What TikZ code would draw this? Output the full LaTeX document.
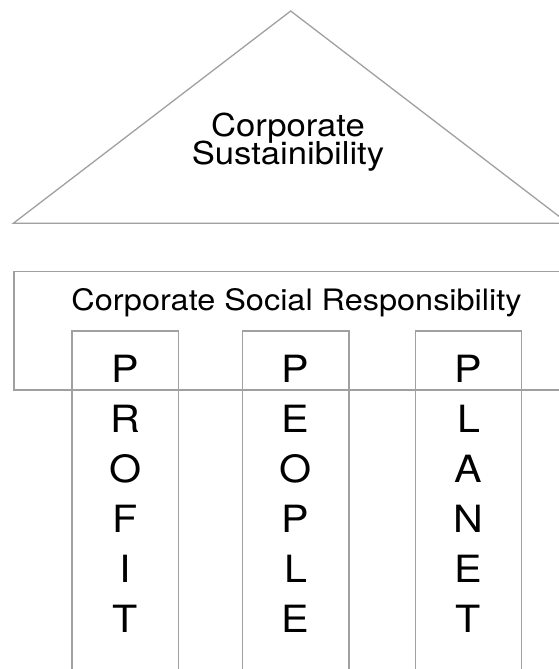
\documentclass[tikz,border=0pt]{standalone}
\usepackage{fontspec}
\setmainfont{TeX Gyre Heros}
\newfontfamily\widefont[FakeStretch=1.1]{TeX Gyre Heros}
\definecolor{line-gray}{RGB}{160,160,160}
\tikzset{
  outline/.style={draw=line-gray, line width=1.3pt},
  pillar/.style={outline, anchor=north, minimum width=106.5pt, minimum height=360pt, inner sep=0pt},
  letters/.style={anchor=north, inner sep=0pt, align=center, font={\widefont\fontsize{37.5}{50}\selectfont}},
}
\begin{document}
\begin{tikzpicture}[x=1pt, y=-1pt]
    \useasboundingbox (0,0) rectangle (559,669);
    \clip (0,0) rectangle (559,669);
    % roof
    \coordinate (apex) at (290.7,11);
    \coordinate (eave-left) at (13.3,223.3);
    \coordinate (eave-right) at (568.1,223.3);
    \draw[outline] (eave-left) -- (apex) -- (eave-right) -- cycle;
    \node[align=center, inner sep=0pt, anchor=base,
      font={\widefont\fontsize{31.5}{28}\selectfont\lineskiplimit=-50pt}] (roof-text) at (288,164)
      {Corporate\\Sustainibility};
    % beam
    \node[outline, anchor=north west, minimum width=570pt, minimum height=118.3pt, inner sep=0pt] (csr) at (13.3,271) {};
    \node[anchor=base, inner sep=0pt, font={\widefont\fontsize{29.5}{30}\selectfont}] (csr-text) at (296.5,310)
      {Corporate Social Responsibility};
    % pillars
    \node[pillar] (profit) at (125.2,330.3) {};
    \node[pillar] (people) at (295.7,330.3) {};
    \node[pillar] (planet) at (468.5,330.3) {};
    \node[letters] (profit-text) at (profit.north |- 0,354.8) {P\\R\\O\\F\\I\\T};
    \node[letters] (people-text) at (people.north |- 0,354.8) {P\\E\\O\\P\\L\\E};
    \node[letters] (planet-text) at (planet.north |- 0,354.8) {P\\L\\A\\N\\E\\T};
\end{tikzpicture}
\end{document}
